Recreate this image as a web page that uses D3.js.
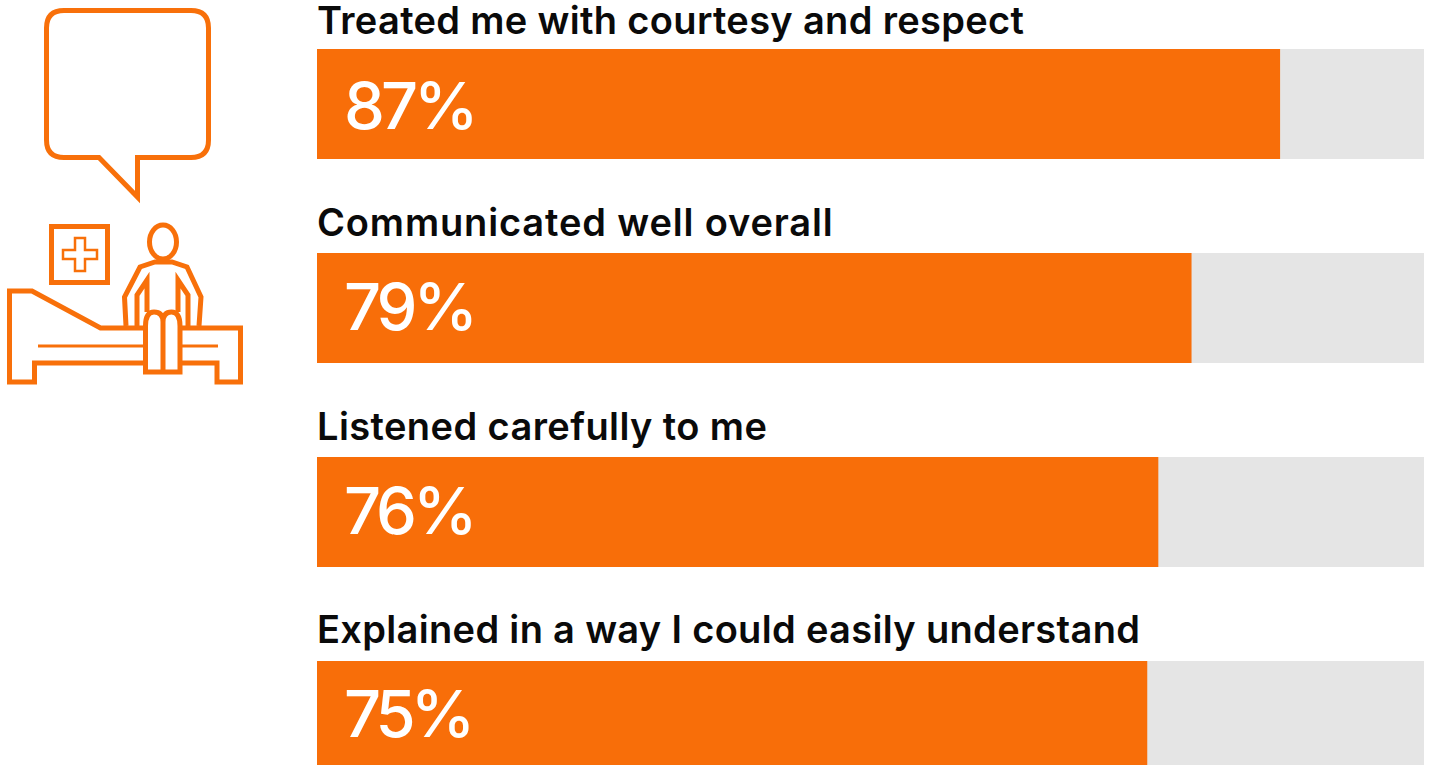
<!DOCTYPE html>
<html><head><meta charset="utf-8"><script src="https://cdn.jsdelivr.net/npm/d3@7"></script>
<style>html,body{margin:0;padding:0;background:#fff;overflow:hidden}</style></head><body><svg id="c" width="1430" height="765" style="display:block"></svg>
<script>
const categories=["Treated me with courtesy and respect","Communicated well overall","Listened carefully to me","Explained in a way I could easily understand"];
const values=[87,79,76,75];
const svg=d3.select("#c");
const x=d3.scaleLinear().domain([0,100]).range([317,1424]);
const y=d3.scaleLinear().domain([0,3]).range([49,661]);
const labelBase=i=>y(i)-(i===0?15:i===3?18:17);
const valueBase=i=>y(i)+(i===0?80:i===3?76:77);
const labelSpacing=i=>i===1?0.85:i===2?0.41:0.33;
const valueSpacing=i=>i===3?-5:-4;
const g=svg.selectAll("g.r").data(categories).join("g").attr("class","r");
g.append("rect").attr("x",x(0)).attr("y",(d,i)=>y(i)).attr("width",x(100)-x(0)).attr("height",110).attr("fill","#e5e5e5");
g.append("rect").attr("x",x(0)).attr("y",(d,i)=>y(i)).attr("width",(d,i)=>x(values[i])-x(0)).attr("height",110).attr("fill","#f86e09");
g.append("text").attr("x",317).attr("y",(d,i)=>labelBase(i)).attr("font-family","Inter").attr("font-weight",600).attr("font-size",38).attr("letter-spacing",(d,i)=>labelSpacing(i)).attr("fill","#0a0a0a").text(d=>d);
g.append("text").attr("x",344).attr("y",(d,i)=>valueBase(i)).attr("font-family","Inter").attr("font-weight",500).attr("font-size",65).attr("letter-spacing",(d,i)=>valueSpacing(i)).attr("fill","#fff").text((d,i)=>values[i]+"%");
const ic=svg.append("g").attr("fill","none").attr("stroke","#f8700a").attr("stroke-width",5);
ic.append("path").attr("d","M64 10.5H191Q208.5 10.5 208.5 28V140Q208.5 157.5 191 157.5H137.5V197L99 157.5H64Q46.5 157.5 46.5 140V28Q46.5 10.5 64 10.5Z");
ic.append("rect").attr("x",51.5).attr("y",226.5).attr("width",56).attr("height",56);
ic.append("path").attr("stroke-width",2.5).attr("d","M75 238H85V250H97V259H85V271H75V259H63V250H75Z");
ic.append("path").attr("d","M143 328H100.5L32 291H9.5V382H34.5V363H143");
ic.append("path").attr("d","M182 328H240.5V382H217V363H182");
ic.append("path").attr("stroke-width",3).attr("d","M38 346H143M182 346H218");
ic.append("ellipse").attr("cx",163).attr("cy",242).attr("rx",13.5).attr("ry",17);
ic.append("path").attr("d","M126 326L124.5 297L140 267L155 262H172L187 267L201 297L199 326");
ic.append("path").attr("d","M137 326V295L147 280V312M178 312V280L188 295V326");
ic.append("path").attr("d","M145.5 326V372H180V326Q180 312 171.5 312Q163 312 163 322Q163 312 154 312Q145.5 312 145.5 326ZM163 322V372");
</script></body></html>
